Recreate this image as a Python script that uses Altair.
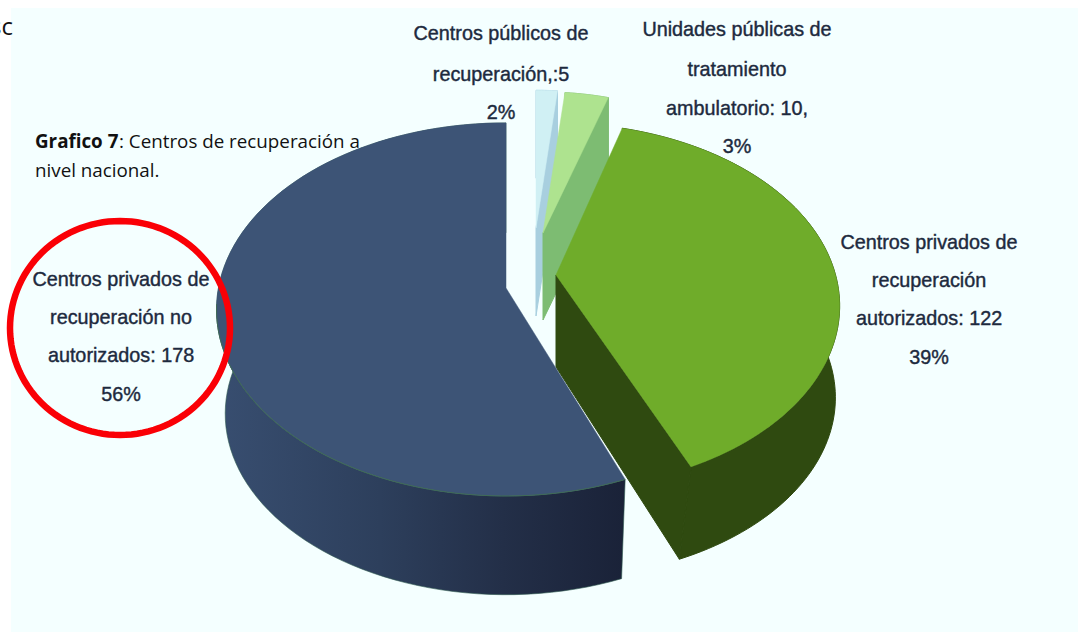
import math
import altair as alt
import pandas as pd

# Slices of the pie, in clockwise order from twelve o'clock
categories = [
    "Centros públicos de recuperación",
    "Unidades públicas de tratamiento ambulatorio",
    "Centros privados de recuperación autorizados",
    "Centros privados de recuperación no autorizados",
]
values = [5, 10, 122, 178]

label_lines = [
    "Centros públicos de", "recuperación,:5", "2%",
    "Unidades públicas de", "tratamiento", "ambulatorio: 10,", "3%",
    "Centros privados de", "recuperación", "autorizados: 122", "39%",
    "Centros privados de", "recuperación no", "autorizados: 178", "56%",
]
caption_bold = "Grafico 7"
caption_rest = [": Centros de recuperación a", "nivel nacional."]

W, H = 1078, 632
TILT = 0.1148   # foreshortening of the far side of the disc
AX, BY = 289.0, 185.0   # half axes of the disc on screen

# Placement of each slice
slice_layout = [
    dict(ax=536, ay=228, s=0.83, d=88, shr=1.0, rot=0, rim_dy=0, low_rot=0, end_nudge=0),
    dict(ax=543, ay=233, s=0.85, d=87, shr=1.0, rot=0, rim_dy=0, low_rot=0, end_nudge=0),
    dict(ax=556, ay=275, s=0.975, d=92, shr=0.985, rot=-2, rim_dy=10, low_rot=2, end_nudge=0),
    dict(ax=506, ay=288, s=0.995, d=105, shr=0.97, rot=0, rim_dy=0, low_rot=0, end_nudge=1.7),
]

slice_style = [
    ("#d0f0f4", "#a8cfdf"),
    ("#aee38f", "#7dbc72"),
    ("#6fac2a", "#2f4a10"),
    ("#3d5476", None),
]


def rim(ax, ay, scale, t_deg, drop=0.0, shrink=1.0):
    t = math.radians(t_deg)
    u, v = math.sin(t), math.cos(t)
    w = 1 + TILT * v
    return [ax + AX * scale * shrink * u / w, ay + drop - BY * scale * shrink * v / w]


def polygon(points):
    ring = [list(p) for p in points] + [list(points[0])]
    return {"type": "Feature", "properties": {}, "geometry": {"type": "Polygon", "coordinates": [ring]}}


def polyline(points):
    return {"type": "Feature", "properties": {}, "geometry": {"type": "LineString", "coordinates": [list(p) for p in points]}}


def geo(feature, **mark):
    return alt.Chart(alt.Data(values=[feature])).mark_geoshape(**mark).project(
        type="identity", scale=1, translate=[0, 0]
    )


def sweep(a, b, n=90):
    return [a + (b - a) * i / n for i in range(n + 1)]


total = sum(values)

layers = [
    alt.Chart(alt.Data(values=[{"a": 1}])).mark_rect(color="#f4ffff").encode(
        x=alt.value(11), x2=alt.value(W), y=alt.value(8), y2=alt.value(H)
    ),
    # Fragment of running text cut off by the page edge
    alt.Chart(pd.DataFrame({"text": ["sc"], "x": [13], "y": [28]})).mark_text(
        font="Open Sans", fontSize=24, color="#111111", align="right", baseline="middle"
    ).encode(x=alt.X("x:Q", scale=None, axis=None), y=alt.Y("y:Q", scale=None, axis=None), text="text:N"),
]

# Sweep of each slice from its value
start = 0.0
arcs = []
for val in values[:3]:
    end = start + val / total * 360
    arcs.append((start, end))
    start = end
arcs.append((360.0, 360.0 - values[3] / total * 360))

# Extruded slices, back to front
for (a, b), p, (top, side) in zip(arcs, slice_layout, slice_style):
    ax, ay, s, d, shr = p["ax"], p["ay"], p["s"], p["d"], p["shr"]
    ts = sweep(a + p["rot"], b + p["rot"] + p["end_nudge"])
    upper = [[x, y + p["rim_dy"]] for x, y in (rim(ax, ay, s, t) for t in ts)]
    lower = [[x, y + p["rim_dy"]] for x, y in (rim(ax, ay, s, t + p["low_rot"], d, shr) for t in ts)]
    if side is None:
        fill = alt.Gradient(
            gradient="linear", x1=0, x2=1, y1=0, y2=0,
            stops=[
                alt.GradientStop(color="#384e70", offset=0),
                alt.GradientStop(color="#2d3f5c", offset=0.4),
                alt.GradientStop(color="#232f48", offset=0.7),
                alt.GradientStop(color="#1a2238", offset=1),
            ],
        )
        layers.append(geo(polygon(upper + lower[::-1]), fill=fill, stroke="#2f5a50", strokeWidth=0.6))
    else:
        # Outer wall, then the cut face on the clockwise side
        layers.append(geo(polygon(upper + lower[::-1]), fill=side, stroke=side, strokeWidth=1))
        layers.append(geo(polygon([[ax, ay], upper[-1], lower[-1], [ax, ay + d]]), fill=side, stroke=side, strokeWidth=1))
    layers.append(geo(polygon([[ax, ay]] + upper), fill=top, stroke=top, strokeWidth=0.5))

# Thin rim along the front of the largest slice
a, b = arcs[3]
p = slice_layout[3]
layers.append(geo(polyline([rim(p["ax"], p["ay"], p["s"], t) for t in sweep(a - 95, b + p["end_nudge"])]),
                  fill="transparent", stroke="#3f6b55", strokeWidth=1))

# Hand-drawn highlight around the last label
ring = [[120 + 110 * math.cos(math.radians(t)), 328 + 107 * math.sin(math.radians(t))] for t in range(0, 360, 3)]
layers.append(geo(polygon(ring), fill="transparent", stroke="#fa0006", strokeWidth=6.5))

# Slice labels
label_x = [501] * 3 + [737] * 4 + [929] * 4 + [121] * 4
label_y = [34, 75, 113, 30, 70, 109, 147, 243, 281, 319, 358, 280, 318, 356, 395]
labels = pd.DataFrame({"text": label_lines, "x": label_x, "y": label_y})
layers.append(
    alt.Chart(labels).mark_text(
        font="Liberation Sans", fontSize=19.8, color="#1d2a3e", stroke="#1d2a3e", strokeWidth=0.4,
        align="center", baseline="middle"
    ).encode(
        x=alt.X("x:Q", scale=None, axis=None),
        y=alt.Y("y:Q", scale=None, axis=None),
        text="text:N",
    )
)

# Caption
cap = dict(font="Open Sans", fontSize=18.8, color="#111111", align="left", baseline="middle")
layers.append(
    alt.Chart(pd.DataFrame({"text": [caption_bold], "x": [35], "y": [142]}))
    .mark_text(fontWeight="bold", **cap)
    .encode(x=alt.X("x:Q", scale=None, axis=None), y=alt.Y("y:Q", scale=None, axis=None), text="text:N")
)
layers.append(
    alt.Chart(pd.DataFrame({"text": caption_rest, "x": [119, 35], "y": [142, 171]}))
    .mark_text(**cap)
    .encode(x=alt.X("x:Q", scale=None, axis=None), y=alt.Y("y:Q", scale=None, axis=None), text="text:N")
)

chart = alt.layer(*layers).properties(
    width=W, height=H, padding=0, autosize=alt.AutoSizeParams(type="none"), background="#ffffff"
).configure_view(stroke=None)

chart.save("out.html", embed_options={"renderer": "svg", "actions": False})
